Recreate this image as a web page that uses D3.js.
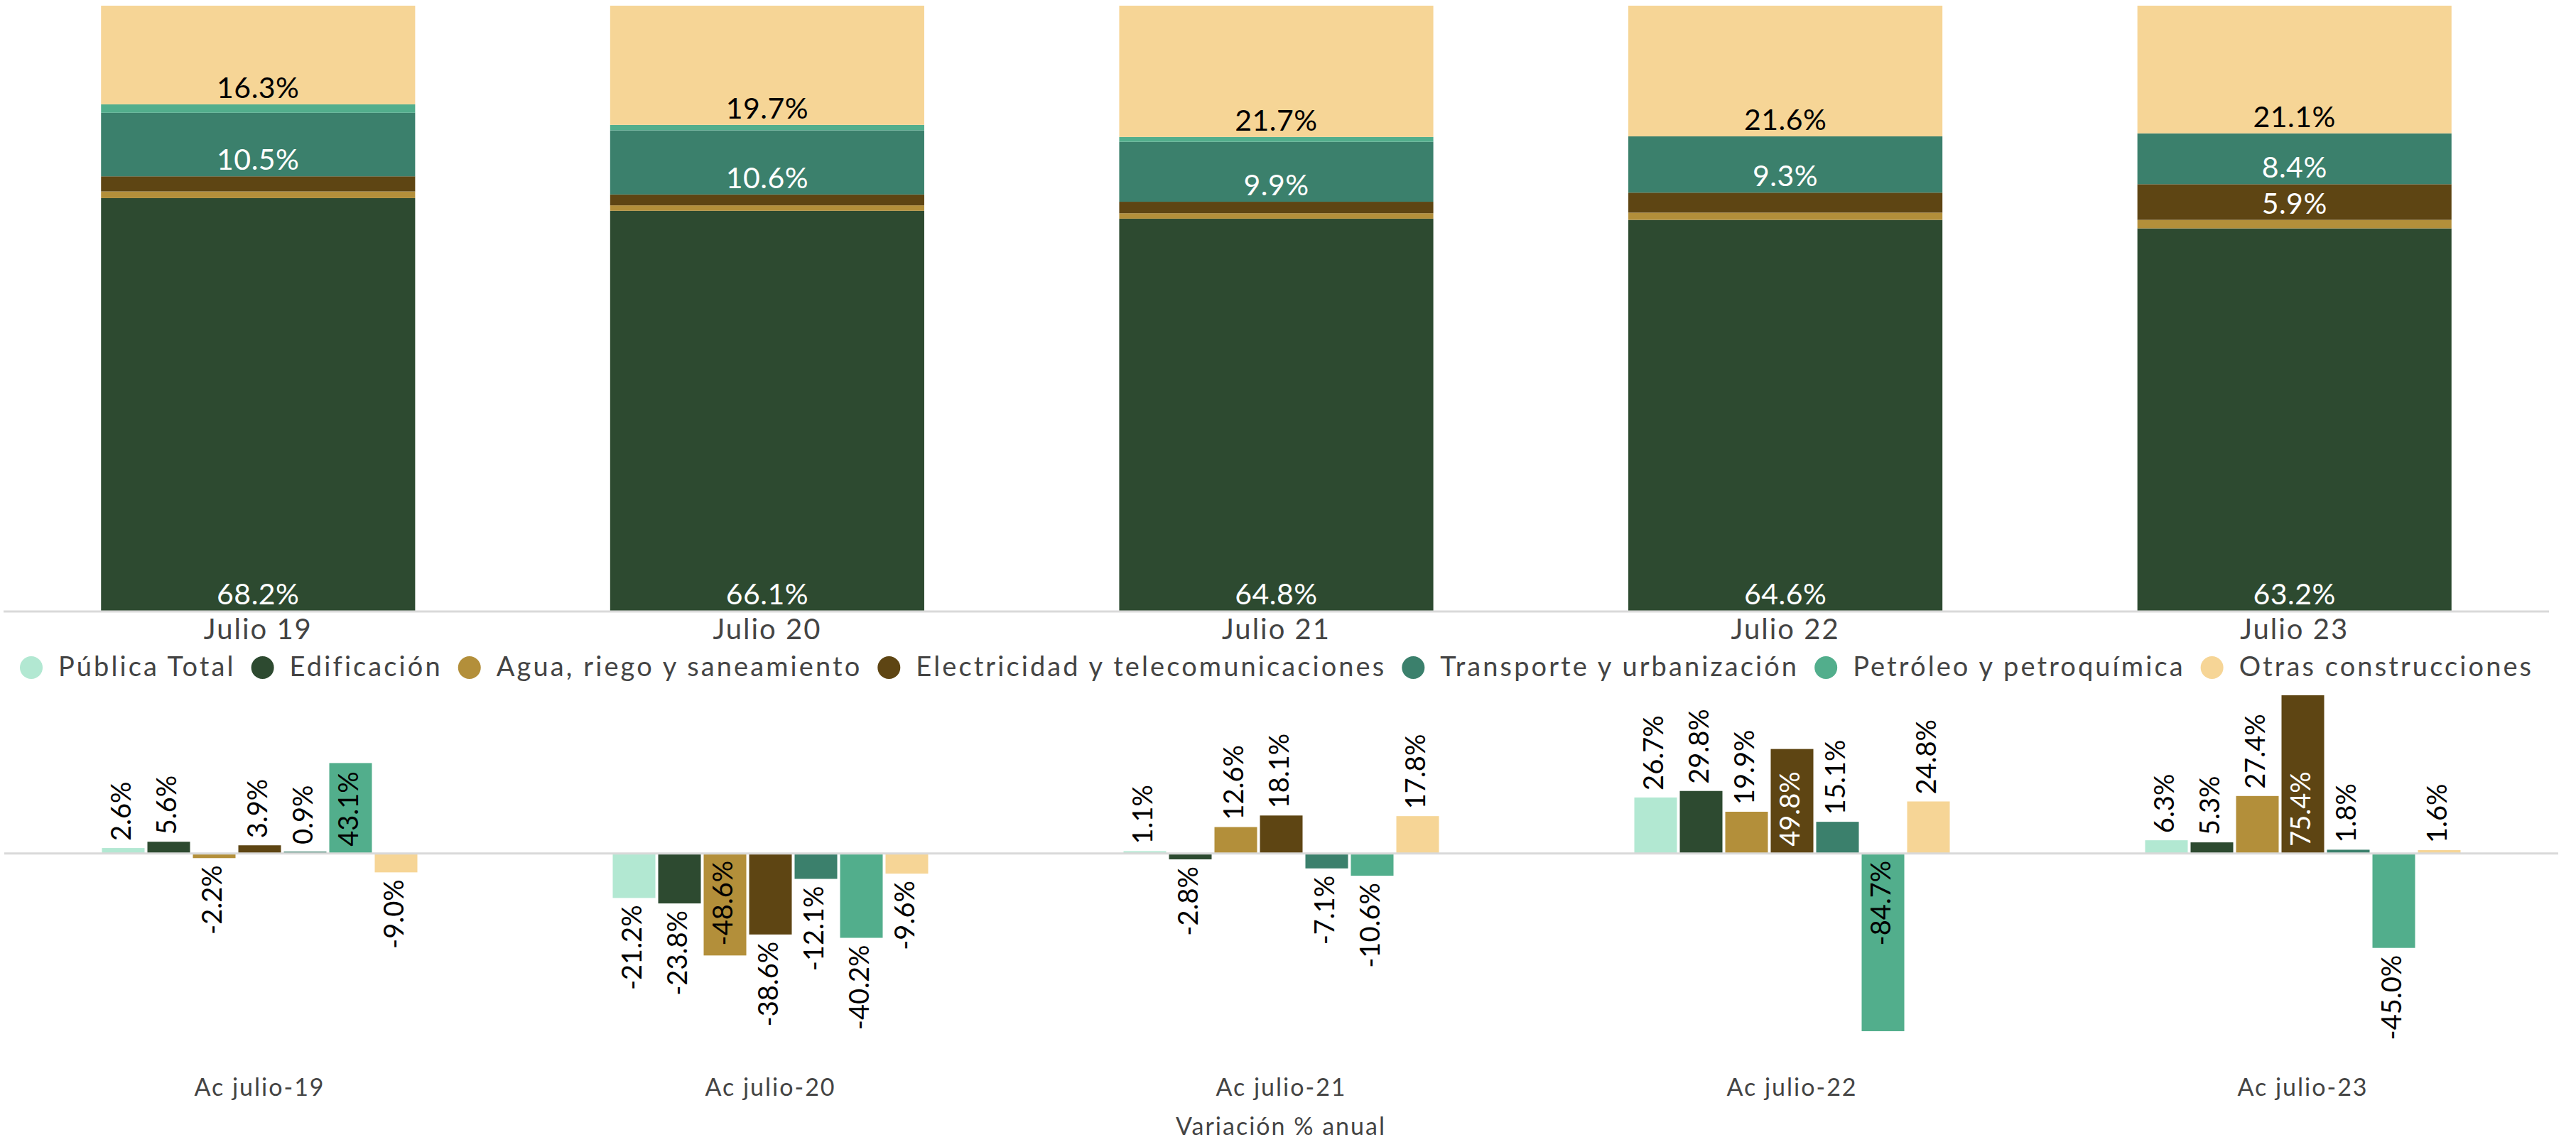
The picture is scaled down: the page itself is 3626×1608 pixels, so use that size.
<!DOCTYPE html>
<html>
<head>
<meta charset="utf-8">
<script src="https://cdn.jsdelivr.net/npm/d3@7"></script>
<style>
  body { margin: 0; background: #fff; }
  text { font-family: Lato, "Open Sans", sans-serif; }
</style>
</head>
<body>
<svg id="chart" width="3626" height="1608"></svg>
<script>
// participacion (%) por periodo - grafica de arriba
const periods = ["Julio 19", "Julio 20", "Julio 21", "Julio 22", "Julio 23"];
const shareEdificacion  = [68.2, 66.1, 64.8, 64.6, 63.2];
const shareAgua         = [1.1, 0.9, 0.9, 1.2, 1.4];
const shareElectricidad = [2.5, 1.8, 1.9, 3.3, 5.9];
const shareTransporte   = [10.5, 10.6, 9.9, 9.3, 8.4];
const sharePetroleo     = [1.4, 0.9, 0.8, 0.0, 0.0];
const shareOtras        = [16.3, 19.7, 21.7, 21.6, 21.1];

// variacion % anual - grafica de abajo
const accPeriods = ["Ac julio-19", "Ac julio-20", "Ac julio-21", "Ac julio-22", "Ac julio-23"];
const varPublica      = [2.6, -21.2, 1.1, 26.7, 6.3];
const varEdificacion  = [5.6, -23.8, -2.8, 29.8, 5.3];
const varAgua         = [-2.2, -48.6, 12.6, 19.9, 27.4];
const varElectricidad = [3.9, -38.6, 18.1, 49.8, 75.4];
const varTransporte   = [0.9, -12.1, -7.1, 15.1, 1.8];
const varPetroleo     = [43.1, -40.2, -10.6, -84.7, -45.0];
const varOtras        = [-9.0, -9.6, 17.8, 24.8, 1.6];

const seriesNames = ["Pública Total", "Edificación", "Agua, riego y saneamiento",
  "Electricidad y telecomunicaciones", "Transporte y urbanización",
  "Petróleo y petroquímica", "Otras construcciones"];
const colors = ["#b2e8d2", "#2d4a30", "#b38f3a", "#5e4513", "#3b806c", "#52ae8c", "#f6d596"];

const svg = d3.select("#chart");
const color = d3.scaleOrdinal().domain(seriesNames).range(colors);
const fmt = d => d.toFixed(1) + "%";

// ---------- stacked 100% chart ----------
const shareKeys = seriesNames.slice(1);
const shareRows = periods.map((p, i) => ({
  period: p,
  "Edificación": shareEdificacion[i],
  "Agua, riego y saneamiento": shareAgua[i],
  "Electricidad y telecomunicaciones": shareElectricidad[i],
  "Transporte y urbanización": shareTransporte[i],
  "Petróleo y petroquímica": sharePetroleo[i],
  "Otras construcciones": shareOtras[i]
}));
const stacked = d3.stack().keys(shareKeys)(shareRows);

const xTop = d3.scaleBand().domain(periods).range([5, 3588])
  .paddingInner(0.383).paddingOuter(0.1915);
const yTop = d3.scaleLinear().domain([0, 100]).range([860, 8]);

const layer = svg.append("g").selectAll("g")
  .data(stacked).enter().append("g")
  .attr("fill", d => color(d.key));

layer.selectAll("rect")
  .data(d => d.map(s => ({ key: d.key, s: s })))
  .enter().append("rect")
  .attr("x", d => xTop(d.s.data.period))
  .attr("width", xTop.bandwidth())
  .attr("y", d => yTop(d.s[1]))
  .attr("height", d => yTop(d.s[0]) - yTop(d.s[1]));

layer.selectAll("text")
  .data(d => d.map(s => ({ key: d.key, s: s })).filter(o => yTop(o.s[0]) - yTop(o.s[1]) >= 45))
  .enter().append("text")
  .attr("x", d => xTop(d.s.data.period) + xTop.bandwidth() / 2)
  .attr("y", d => yTop(d.s[0]) - 9)
  .attr("text-anchor", "middle")
  .attr("font-size", 41)
  .attr("letter-spacing", 0.5)
  .attr("fill", d => d.key === "Otras construcciones" ? "#000" : "#fff")
  .text(d => fmt(d.s[1] - d.s[0]));

svg.append("line")
  .attr("x1", 5).attr("x2", 3588).attr("y1", 861).attr("y2", 861)
  .attr("stroke", "#d9d9d9").attr("stroke-width", 3);

svg.append("g").selectAll("text")
  .data(periods).enter().append("text")
  .attr("x", d => xTop(d) + xTop.bandwidth() / 2)
  .attr("y", 900)
  .attr("text-anchor", "middle")
  .attr("font-size", 40)
  .attr("letter-spacing", 2)
  .attr("fill", "#444")
  .text(d => d);

// ---------- legend ----------
const legend = svg.append("g");
let lx = 28;
seriesNames.forEach(name => {
  legend.append("circle")
    .attr("cx", lx + 16).attr("cy", 940).attr("r", 16)
    .attr("fill", color(name));
  const t = legend.append("text")
    .attr("x", lx + 54).attr("y", 952)
    .attr("font-size", 38)
    .attr("letter-spacing", 3.1)
    .attr("fill", "#444")
    .text(name);
  lx += 54 + t.node().getComputedTextLength() + 22;
});

// ---------- grouped variation chart ----------
const varSeries = [varPublica, varEdificacion, varAgua, varElectricidad, varTransporte, varPetroleo, varOtras];
const varRows = [];
accPeriods.forEach((p, i) => {
  seriesNames.forEach((s, j) => varRows.push({ period: p, name: s, value: varSeries[j][i] }));
});

const x0 = d3.scaleBand().domain(accPeriods).range([6, 3601]);
const x1 = d3.scaleBand().domain(seriesNames).range([0, 444]).paddingInner(0.0625);
const yB = d3.scaleLinear()
  .domain([d3.min(varRows, d => d.value), d3.max(varRows, d => d.value)])
  .range([1452, 979]);
const groupOff = (x0.bandwidth() - 444) / 2;
const bx = d => x0(d.period) + groupOff + x1(d.name);

svg.append("g").selectAll("rect")
  .data(varRows).enter().append("rect")
  .attr("x", bx)
  .attr("width", x1.bandwidth())
  .attr("y", d => Math.min(yB(d.value), yB(0)))
  .attr("height", d => Math.abs(yB(d.value) - yB(0)))
  .attr("fill", d => color(d.name));

svg.append("line")
  .attr("x1", 6).attr("x2", 3601).attr("y1", yB(0)).attr("y2", yB(0))
  .attr("stroke", "#d9d9d9").attr("stroke-width", 3);

const pad = 10;
const vlab = svg.append("g").selectAll("text")
  .data(varRows).enter().append("text")
  .attr("font-size", 38)
  .attr("dy", "0.28em")
  .text(d => fmt(d.value));

vlab.each(function(d) {
  const len = this.getComputedTextLength();
  const barLen = Math.abs(yB(d.value) - yB(0));
  const inside = len + 18 <= barLen;
  const cx = bx(d) + x1.bandwidth() / 2;
  let y, anchor;
  if (d.value >= 0) {
    anchor = "start";
    y = inside ? yB(0) - pad : yB(d.value) - pad;
  } else {
    anchor = "end";
    y = inside ? yB(0) + pad : yB(d.value) + pad;
  }
  const dark = d.name === "Electricidad y telecomunicaciones" || d.name === "Edificación";
  d3.select(this)
    .attr("text-anchor", anchor)
    .attr("transform", "translate(" + cx + "," + y + ") rotate(-90)")
    .attr("fill", inside && dark ? "#fff" : "#000");
});

svg.append("g").selectAll("text")
  .data(accPeriods).enter().append("text")
  .attr("x", d => x0(d) + x0.bandwidth() / 2)
  .attr("y", 1543)
  .attr("text-anchor", "middle")
  .attr("font-size", 34)
  .attr("letter-spacing", 2)
  .attr("fill", "#444")
  .text(d => d);

svg.append("text")
  .attr("x", 1803).attr("y", 1598)
  .attr("text-anchor", "middle")
  .attr("font-size", 34)
  .attr("letter-spacing", 2)
  .attr("fill", "#444")
  .text("Variación % anual");
</script>
</body>
</html>
